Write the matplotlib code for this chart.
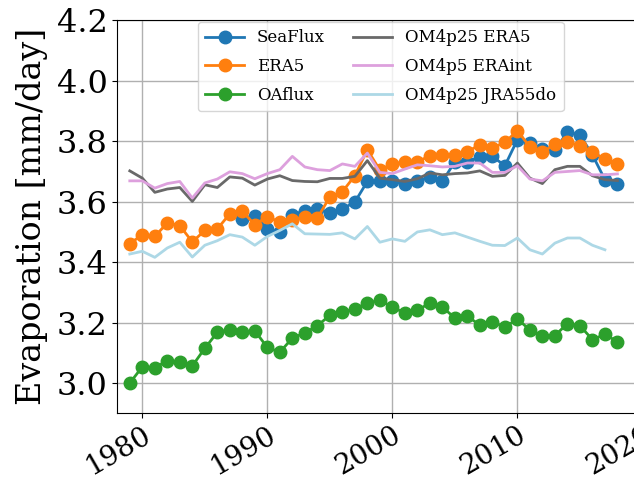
import matplotlib
matplotlib.use('Agg')
import matplotlib.pyplot as plt

# annual mean evaporation [mm/day]
years_seaflux = list(range(1988, 2019))
seaflux = [3.544, 3.554, 3.510, 3.500, 3.557, 3.570, 3.576, 3.563, 3.576, 3.599,
           3.667, 3.668, 3.669, 3.658, 3.667, 3.682, 3.667, 3.732, 3.732, 3.748,
           3.750, 3.719, 3.805, 3.794, 3.775, 3.770, 3.831, 3.821, 3.755, 3.673,
           3.658]

years_era5 = list(range(1979, 2019))
era5 = [3.461, 3.491, 3.485, 3.530, 3.521, 3.467, 3.505, 3.510, 3.560, 3.568,
        3.524, 3.551, 3.532, 3.540, 3.549, 3.546, 3.616, 3.633, 3.686, 3.772,
        3.705, 3.725, 3.732, 3.733, 3.751, 3.756, 3.755, 3.766, 3.788, 3.778,
        3.796, 3.835, 3.781, 3.763, 3.791, 3.799, 3.785, 3.764, 3.741, 3.725]

years_oaflux = list(range(1979, 2019))
oaflux = [3.000, 3.054, 3.051, 3.074, 3.071, 3.057, 3.115, 3.168, 3.177, 3.168,
          3.173, 3.118, 3.102, 3.149, 3.166, 3.190, 3.224, 3.235, 3.245, 3.265,
          3.274, 3.252, 3.231, 3.242, 3.264, 3.252, 3.215, 3.221, 3.192, 3.203,
          3.185, 3.212, 3.176, 3.157, 3.157, 3.197, 3.190, 3.144, 3.161, 3.137]

years_om4p25_era5 = list(range(1979, 2019))
om4p25_era5 = [3.702, 3.678, 3.631, 3.642, 3.647, 3.601, 3.656, 3.647, 3.682, 3.678,
               3.655, 3.675, 3.686, 3.670, 3.667, 3.666, 3.677, 3.677, 3.684, 3.736,
               3.678, 3.673, 3.667, 3.676, 3.695, 3.689, 3.693, 3.695, 3.702, 3.684,
               3.687, 3.728, 3.678, 3.660, 3.706, 3.717, 3.717, 3.686, 3.673, 3.670]

years_om4p5_eraint = list(range(1979, 2019))
om4p5_eraint = [3.669, 3.669, 3.645, 3.660, 3.667, 3.612, 3.662, 3.675, 3.699, 3.693,
                3.676, 3.693, 3.706, 3.750, 3.715, 3.706, 3.703, 3.725, 3.717, 3.761,
                3.697, 3.693, 3.708, 3.722, 3.719, 3.715, 3.717, 3.728, 3.728, 3.697,
                3.697, 3.719, 3.675, 3.669, 3.697, 3.700, 3.703, 3.689, 3.689, 3.692]

years_om4p25_jra = list(range(1979, 2018))
om4p25_jra = [3.427, 3.436, 3.416, 3.447, 3.466, 3.417, 3.456, 3.471, 3.491, 3.483,
              3.456, 3.485, 3.505, 3.527, 3.494, 3.493, 3.492, 3.497, 3.477, 3.518,
              3.466, 3.477, 3.469, 3.500, 3.507, 3.491, 3.497, 3.483, 3.469, 3.456,
              3.455, 3.480, 3.441, 3.427, 3.463, 3.480, 3.480, 3.456, 3.441]

xticks = [1980, 1990, 2000, 2010, 2020]
yticks = [3.0, 3.2, 3.4, 3.6, 3.8, 4.0, 4.2]

plt.rcParams['font.family'] = ['DejaVu Serif']

fig = plt.figure(figsize=(6.34, 4.84), dpi=100)
# axes runs past the right edge of the picture (cropped figure)
ax = fig.add_axes([0.185, 0.146, 0.848, 0.812])

ax.plot(years_seaflux, seaflux, '-o', color='tab:blue', lw=2, ms=9, label='SeaFlux')
ax.plot(years_era5, era5, '-o', color='tab:orange', lw=2, ms=9, label='ERA5')
ax.plot(years_oaflux, oaflux, '-o', color='tab:green', lw=2, ms=9, label='OAflux')
ax.plot(years_om4p25_era5, om4p25_era5, '-', color='dimgray', lw=2, label='OM4p25 ERA5')
ax.plot(years_om4p5_eraint, om4p5_eraint, '-', color='plum', lw=2, label='OM4p5 ERAint')
ax.plot(years_om4p25_jra, om4p25_jra, '-', color='lightblue', lw=2, label='OM4p25 JRA55do')

ax.set_xlim(1978, 2021)
ax.set_ylim(2.9, 4.2)
ax.set_xticks(xticks)
ax.set_yticks(yticks)
ax.set_yticklabels([f'{v:.1f}' for v in yticks])
ax.tick_params(axis='y', labelsize=23)
ax.tick_params(axis='x', labelsize=20, pad=2)
plt.setp(ax.get_xticklabels(), rotation=30, ha='right', rotation_mode='anchor')
ax.set_ylabel('Evaporation [mm/day]', fontsize=24, labelpad=6)
ax.grid(True, color='#b0b0b0', lw=1)

ax.legend(loc='upper center', ncol=2, fontsize=12, bbox_to_anchor=(0.49, 1.0),
          borderaxespad=0.1, handlelength=2.3, columnspacing=1.7,
          borderpad=0.45, labelspacing=0.7)

fig.savefig('out.png', dpi=100)
